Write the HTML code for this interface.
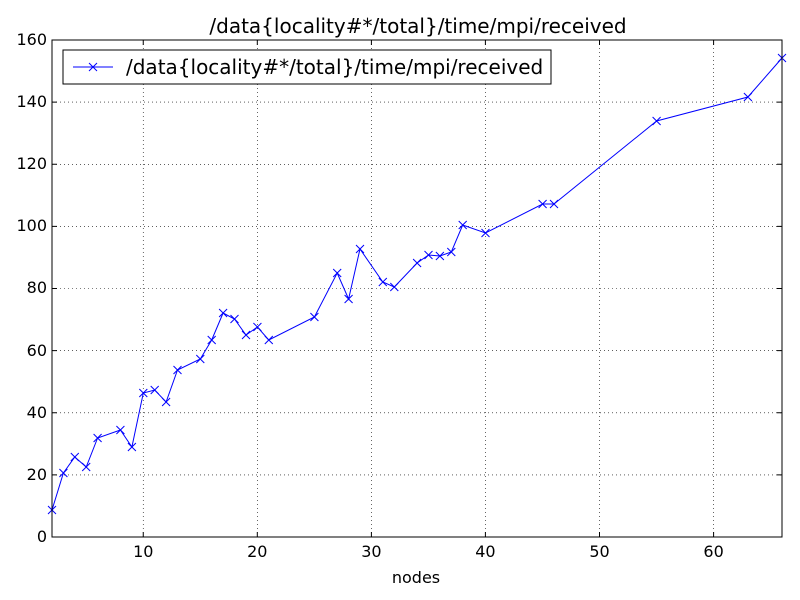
<!DOCTYPE html>
<html><head><meta charset="utf-8"><style>body{margin:0;background:#fff}svg{display:block}</style></head><body>
<svg width="800" height="600" xmlns="http://www.w3.org/2000/svg" font-family="DejaVu Sans, sans-serif">
<rect width="800" height="600" fill="#fff"/>
<g stroke="#000" stroke-width="0.6" stroke-dasharray="1,3">
<line x1="143.25" y1="40" x2="143.25" y2="537"/><line x1="257.3" y1="40" x2="257.3" y2="537"/><line x1="371.4" y1="40" x2="371.4" y2="537"/><line x1="485.4" y1="40" x2="485.4" y2="537"/><line x1="599.5" y1="40" x2="599.5" y2="537"/><line x1="713.6" y1="40" x2="713.6" y2="537"/>
<line x1="52" y1="474.9" x2="782" y2="474.9"/><line x1="52" y1="412.8" x2="782" y2="412.8"/><line x1="52" y1="350.6" x2="782" y2="350.6"/><line x1="52" y1="288.5" x2="782" y2="288.5"/><line x1="52" y1="226.4" x2="782" y2="226.4"/><line x1="52" y1="164.3" x2="782" y2="164.3"/><line x1="52" y1="102.1" x2="782" y2="102.1"/>
</g>
<polyline fill="none" stroke="#00f" stroke-width="1" points="52,510 63.4,473 74.8,457 86.2,467 97.6,438 120.4,430 131.9,447 143.3,393 154.7,390 166.1,402 177.5,370 200.3,359 211.7,340 223.1,313 234.5,319 246,335 257.4,327 268.8,340 314.4,317 337.2,273 348.6,299 360,249 382.8,282 394.3,287 417.1,263 428.5,255 439.9,256 451.3,252 462.7,225 485.5,233 542.6,204 554,204 656.6,121 747.9,97 782,58"/>
<g stroke="#00f" stroke-width="1" id="m"></g>
<rect x="52" y="40" width="730" height="497" fill="none" stroke="#000" stroke-width="1"/>
<g stroke="#000" stroke-width="1">
<path d="M143.25,537v-5M257.3,537v-5M371.4,537v-5M485.4,537v-5M599.5,537v-5M713.6,537v-5M143.25,40v5M257.3,40v5M371.4,40v5M485.4,40v5M599.5,40v5M713.6,40v5"/>
<path d="M52,474.9h5M52,412.8h5M52,350.6h5M52,288.5h5M52,226.4h5M52,164.3h5M52,102.1h5M782,474.9h-5M782,412.8h-5M782,350.6h-5M782,288.5h-5M782,226.4h-5M782,164.3h-5M782,102.1h-5"/>
</g>
<g font-size="16" text-anchor="middle">
<text x="143.25" y="557">10</text><text x="257.3" y="557">20</text><text x="371.4" y="557">30</text><text x="485.4" y="557">40</text><text x="599.5" y="557">50</text><text x="713.6" y="557">60</text>
<text x="416" y="583">nodes</text>
</g>
<g font-size="16" text-anchor="end">
<text x="47" y="542">0</text><text x="47" y="480">20</text><text x="47" y="418">40</text><text x="47" y="356">60</text><text x="47" y="293">80</text><text x="47" y="231">100</text><text x="47" y="169">120</text><text x="47" y="107">140</text><text x="47" y="45">160</text>
</g>
<text x="418" y="33" font-size="20" text-anchor="middle">/data{locality#*/total}/time/mpi/received</text>
<rect x="63" y="50" width="488" height="34" fill="#fff" stroke="#000" stroke-width="1"/>
<line x1="73" y1="67" x2="113" y2="67" stroke="#00f"/>
<path d="M89,63l8,8M97,63l-8,8" stroke="#00f"/>
<text x="126" y="74" font-size="20">/data{locality#*/total}/time/mpi/received</text>
<script>
var p=document.querySelector('polyline').getAttribute('points').trim().split(/\s+/),s='';
p.forEach(function(q){var a=q.split(',');var x=+a[0],y=+a[1];s+='M'+(x-4)+','+(y-4)+'l8,8M'+(x+4)+','+(y-4)+'l-8,8';});
var e=document.createElementNS('http://www.w3.org/2000/svg','path');e.setAttribute('d',s);document.getElementById('m').appendChild(e);
</script>
</svg>
</body></html>
